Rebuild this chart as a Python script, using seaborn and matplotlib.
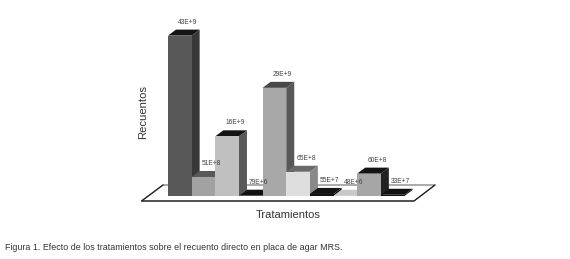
import matplotlib
matplotlib.use("Agg")
import matplotlib.pyplot as plt
import pandas as pd
import seaborn as sns
from matplotlib.patches import Polygon

# ===== DATA =====
tratamientos = ["T1", "T2", "T3", "T4", "T5", "T6", "T7", "T8", "T9", "T10"]
recuentos = [43e9, 5.1e9, 16e9, 79e6, 29e9, 6.5e9, 55e7, 48e6, 6.0e9, 33e7]
etiquetas = ["43E+9", "51E+8", "16E+9", "79E+6", "29E+9", "65E+8", "55E+7", "48E+6", "60E+8", "33E+7"]
color_frente = ["#585858", "#a2a2a2", "#c0c0c0", "#111111", "#a8a8a8",
                "#dedede", "#111111", "#c8c8c8", "#a6a6a6", "#111111"]
color_lado = ["#383838", "#585858", "#585858", "#111111", "#585858",
              "#8a8a8a", "#111111", "#c8c8c8", "#222222", "#111111"]
color_tapa = ["#141414", "#585858", "#141414", "#111111", "#484848",
              "#6a6a6a", "#111111", "#c8c8c8", "#141414", "#111111"]

W, H = 570, 259
X0, X1, BASE = 168, 404.5, 196
PX_Y = 3.73 / 1e9  # pixels per count
DX, DY = 8, 6      # depth of the bars, pixels

df = pd.DataFrame({"tratamiento": tratamientos, "recuento": recuentos})

plt.rcParams["font.family"] = ["Liberation Sans", "DejaVu Sans"]
fig = plt.figure(figsize=(W / 100, H / 100), dpi=100, facecolor="white")
alto = 170
ax = fig.add_axes([X0 / W, (H - BASE) / H, (X1 - X0) / W, alto / H])

sns.barplot(data=df, x="tratamiento", y="recuento", hue="tratamiento",
            palette=color_frente, width=1, legend=False, saturation=1, ax=ax)
ax.set_xlim(-0.5, 9.5)
ax.set_ylim(0, alto / PX_Y)
ax.axis("off")
barras = list(ax.patches)

px_x = (X1 - X0) / 10
dx = DX / px_x
dy = DY / PX_Y

# ===== FLOOR =====
suelo = [(-0.5 - 26.5 / px_x, -5 / PX_Y), (9.5 + 9.5 / px_x, -5 / PX_Y),
         (9.5 + 30.5 / px_x, 11 / PX_Y), (-0.5 - 5 / px_x, 11 / PX_Y)]
ax.add_patch(Polygon(suelo, closed=True, facecolor="white", edgecolor="#555555",
                     linewidth=0.7, zorder=1, clip_on=False))
ax.plot([suelo[3][0], suelo[0][0], suelo[1][0], suelo[2][0]],
        [suelo[3][1], suelo[0][1], suelo[1][1], suelo[2][1]],
        color="#222222", linewidth=0.9, zorder=1.5, clip_on=False)

# ===== 3D FACES =====
for i, bar in enumerate(barras):
    x, w, h = bar.get_x(), bar.get_width(), bar.get_height()
    z = 2 + i
    bar.set_zorder(z + 0.5)
    bar.set_clip_on(False)
    lado = [(x + w, 0), (x + w + dx, dy), (x + w + dx, h + dy), (x + w, h)]
    tapa = [(x, h), (x + dx, h + dy), (x + w + dx, h + dy), (x + w, h)]
    ax.add_patch(Polygon(lado, closed=True, facecolor=color_lado[i], edgecolor="none",
                         zorder=z, clip_on=False))
    ax.add_patch(Polygon(tapa, closed=True, facecolor=color_tapa[i], edgecolor="none",
                         zorder=z, clip_on=False))
    ax.annotate(etiquetas[i], (x + w / 2, h), xytext=(8 * 0.72, 13.5 * 0.72),
                textcoords="offset points", ha="center", va="center",
                fontsize=4.8, color="#444444", zorder=30, annotation_clip=False)

# ===== TEXT =====
fig.text(143 / W, 1 - 112 / H, "Recuentos", rotation=90, ha="center", va="center",
         fontsize=8.1, color="#333333")
fig.text(288 / W, 1 - 215 / H, "Tratamientos", ha="center", va="center",
         fontsize=8, color="#333333")
fig.text(5 / W, 1 - 247.5 / H, "Figura 1. Efecto de los tratamientos sobre el recuento directo en placa de agar MRS.",
         ha="left", va="center", fontsize=6.38, color="#333333")

plt.savefig("out.png", dpi=100)
plt.close()
